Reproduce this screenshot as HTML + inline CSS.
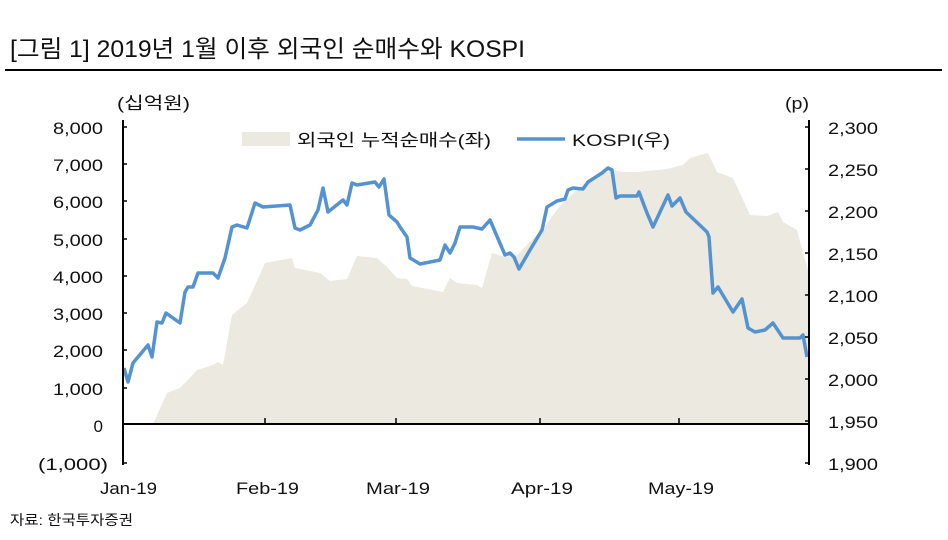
<!DOCTYPE html>
<html><head><meta charset="utf-8"><style>
body{margin:0;background:#fff;width:948px;height:535px;overflow:hidden}
svg text{font-family:"Liberation Sans","Noto Sans CJK KR",sans-serif;fill:#111}
</style></head><body>
<svg width="948" height="535" xmlns="http://www.w3.org/2000/svg">
<text x="10" y="57" font-size="24" textLength="515" lengthAdjust="spacingAndGlyphs">[그림 1] 2019년 1월 이후 외국인 순매수와 KOSPI</text>
<line x1="5" y1="70" x2="942" y2="70" stroke="#000" stroke-width="2"/>
<polygon fill="#ebe9e0" points="123,424 153,424 167,393 180,388 197,370 213,365 218,362 223,365 232,315 247,303 265,263 292,258 295,268 320,273 330,281 347,279 357,256 377,258 387,267 397,278 407,279 412,286 443,292 450,278 457,283 477,285 482,288 492,253 505,257 517,255 542,230 563,202 577,190 593,177 613,170 623,172 637,172 667,169 683,165 690,158 708,153 717,172 733,178 750,215 767,216 778,212 783,222 797,230 803,253 808,270 808,424"/>
<polyline fill="none" stroke="#5593d0" stroke-width="3.5" stroke-linejoin="round" points="124,368 128,382 133,363 148,345 152,357 157,322 162,323 166,313 180,323 185,292 188,287 193,287 198,273 213,273 218,278 225,258 232,227 237,225 247,228 255,203 263,207 290,205 295,228 300,230 310,225 318,210 323,188 328,212 343,200 347,205 352,183 357,185 375,182 379,187 384,179 389,215 397,222 400,227 407,237 410,258 420,264 440,260 445,245 450,253 455,243 460,227 473,227 482,229 490,220 505,255 510,253 514,257 519,269 530,250 542,230 547,207 557,201 565,199 568,190 573,188 583,189 588,182 602,173 608,168 612,170 616,198 620,196 637,196 639,192 647,213 653,227 668,195 672,206 680,198 686,212 707,232 709,237 713,293 718,287 733,312 742,299 748,328 755,332 765,330 773,323 783,338 800,338 803,335 807,357"/>
<g stroke="#000" stroke-width="2" fill="none">
<line x1="123" y1="120" x2="123" y2="465"/>
<line x1="809" y1="120" x2="809" y2="465"/>
<line x1="123" y1="424" x2="809" y2="424"/>
</g>
<g stroke="#000" stroke-width="1.5">
<line x1="123" y1="127" x2="127" y2="127"/><line x1="123" y1="164" x2="127" y2="164"/><line x1="123" y1="201" x2="127" y2="201"/><line x1="123" y1="239" x2="127" y2="239"/><line x1="123" y1="276" x2="127" y2="276"/><line x1="123" y1="313" x2="127" y2="313"/><line x1="123" y1="350" x2="127" y2="350"/><line x1="123" y1="388" x2="127" y2="388"/><line x1="123" y1="463" x2="127" y2="463"/>
<line x1="805" y1="127" x2="809" y2="127"/><line x1="805" y1="169" x2="809" y2="169"/><line x1="805" y1="211" x2="809" y2="211"/><line x1="805" y1="253" x2="809" y2="253"/><line x1="805" y1="295" x2="809" y2="295"/><line x1="805" y1="337" x2="809" y2="337"/><line x1="805" y1="379" x2="809" y2="379"/><line x1="805" y1="421" x2="809" y2="421"/><line x1="805" y1="463" x2="809" y2="463"/>
<line x1="265" y1="424" x2="265" y2="418"/><line x1="396" y1="424" x2="396" y2="418"/><line x1="540" y1="424" x2="540" y2="418"/><line x1="679" y1="424" x2="679" y2="418"/>
</g>
<g font-size="17" text-anchor="end" lengthAdjust="spacingAndGlyphs">
<text x="103" y="134" textLength="50" lengthAdjust="spacingAndGlyphs">8,000</text><text x="103" y="171" textLength="50" lengthAdjust="spacingAndGlyphs">7,000</text><text x="103" y="208" textLength="50" lengthAdjust="spacingAndGlyphs">6,000</text><text x="103" y="246" textLength="50" lengthAdjust="spacingAndGlyphs">5,000</text><text x="103" y="283" textLength="50" lengthAdjust="spacingAndGlyphs">4,000</text><text x="103" y="320" textLength="50" lengthAdjust="spacingAndGlyphs">3,000</text><text x="103" y="357" textLength="50" lengthAdjust="spacingAndGlyphs">2,000</text><text x="103" y="395" textLength="50" lengthAdjust="spacingAndGlyphs">1,000</text><text x="103" y="432">0</text><text x="108" y="470" textLength="70" lengthAdjust="spacingAndGlyphs">(1,000)</text>
</g>
<g font-size="17">
<text x="828" y="134" textLength="50" lengthAdjust="spacingAndGlyphs">2,300</text><text x="828" y="176" textLength="50" lengthAdjust="spacingAndGlyphs">2,250</text><text x="828" y="218" textLength="50" lengthAdjust="spacingAndGlyphs">2,200</text><text x="828" y="260" textLength="50" lengthAdjust="spacingAndGlyphs">2,150</text><text x="828" y="302" textLength="50" lengthAdjust="spacingAndGlyphs">2,100</text><text x="828" y="344" textLength="50" lengthAdjust="spacingAndGlyphs">2,050</text><text x="828" y="386" textLength="50" lengthAdjust="spacingAndGlyphs">2,000</text><text x="828" y="428" textLength="50" lengthAdjust="spacingAndGlyphs">1,950</text><text x="828" y="470" textLength="50" lengthAdjust="spacingAndGlyphs">1,900</text>
</g>
<g font-size="17">
<text x="100" y="494" textLength="57" lengthAdjust="spacingAndGlyphs">Jan-19</text><text x="236" y="494" textLength="63" lengthAdjust="spacingAndGlyphs">Feb-19</text><text x="366" y="494" textLength="64" lengthAdjust="spacingAndGlyphs">Mar-19</text><text x="511" y="494" textLength="62" lengthAdjust="spacingAndGlyphs">Apr-19</text><text x="648" y="494" textLength="66" lengthAdjust="spacingAndGlyphs">May-19</text>
</g>
<text x="117" y="109" font-size="17" textLength="73" lengthAdjust="spacingAndGlyphs">(십억원)</text>
<text x="785" y="109" font-size="17" textLength="24" lengthAdjust="spacingAndGlyphs">(p)</text>
<rect x="242" y="132" width="48" height="14" fill="#ebe9e0"/>
<text x="297" y="146" font-size="17" textLength="194" lengthAdjust="spacingAndGlyphs">외국인 누적순매수(좌)</text>
<line x1="517" y1="139" x2="565" y2="139" stroke="#5593d0" stroke-width="3.5"/>
<text x="572" y="146" font-size="17" textLength="98" lengthAdjust="spacingAndGlyphs">KOSPI(우)</text>
<text x="10" y="525" font-size="14" textLength="123" lengthAdjust="spacingAndGlyphs">자료: 한국투자증권</text>
</svg>
</body></html>
